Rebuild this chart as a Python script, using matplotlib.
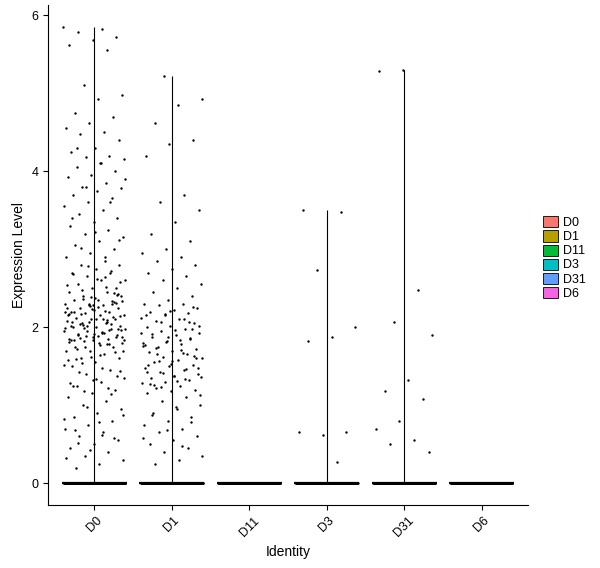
import matplotlib
matplotlib.use("Agg")
import matplotlib.pyplot as plt
from matplotlib.patches import Patch

plt.rcParams['font.family'] = ['Liberation Sans', 'DejaVu Sans']

groups = ["D0", "D1", "D11", "D3", "D31", "D6"]
colors = ["#F8766D", "#B79F00", "#00BA38", "#00BFC4", "#619CFF", "#F564E3"]

d0_vals = [5.85,5.82,5.78,5.72,5.68,5.62,5.55,5.1,4.97,4.92,4.75,4.7,4.62,4.55,4.5,4.48,4.4,4.3,4.25,4.2,4.18,4.15,4.1,4.05,4.0,3.95,3.92,3.85,3.8,3.78,3.75,3.7,3.65,3.6,3.55,3.5,3.45,3.4,3.35,3.3,3.25,3.2,3.15,3.1,3.05,3.0,2.95,2.9,2.85,2.8,2.8,2.75,2.7,2.7,2.65,2.6,2.6,2.55,2.5,2.5,2.45,2.45,2.4,2.4,2.35,2.35,2.3,2.3,2.3,2.28,2.25,2.25,2.22,2.2,2.2,2.18,2.15,2.15,2.12,2.1,2.1,2.08,2.05,2.05,2.02,2.0,2.0,1.98,1.95,1.95,1.92,1.9,1.9,1.88,1.85,1.85,1.82,1.8,1.8,1.75,1.75,1.7,1.7,1.65,1.6,1.6,1.55,1.5,1.45,1.4,1.35,1.3,1.25,1.2,1.15,1.1,1.05,1.0,0.95,0.9,0.85,0.8,0.75,0.7,0.65,0.6,0.55,0.5,0.45,0.4,0.35,0.3,0.25,0.2,
           2.32,2.27,2.24,2.21,2.17,2.14,2.11,2.07,2.04,2.01,1.97,1.94,1.91,1.87,1.84,1.81,1.78,2.36,2.33,2.26,2.19,2.13,2.06,1.99,1.93,1.86,2.42,2.38,2.02,1.96,1.89,1.83,1.77,1.72,1.68,1.62,1.58,2.52,2.48,2.58,2.62,2.68,2.72,2.78,1.52,1.48,1.42,1.38,1.32,1.28,1.22,1.18,0.88,0.78,0.68,0.58,0.42,0.32,2.9,3.02,3.12,3.22,3.4,3.6,3.8,3.9,4.1,4.3,
           2.31,2.23,2.16,2.09,2.03,1.96,1.89,1.83,2.34,2.29,2.19,2.11,2.04,1.97,1.91,1.84,1.79,1.74,1.69,1.64,1.59,2.44,2.39,2.54,2.64,1.54,1.44,1.34,1.24,1.14,0.98,0.82,0.62,0.52,2.41,2.28,2.17,2.07,1.99,1.88]
d1_vals = [5.22,4.92,4.85,4.62,4.4,4.35,4.2,3.7,3.6,3.5,3.35,3.2,3.1,3.0,2.95,2.9,2.85,2.8,2.75,2.7,2.65,2.6,2.55,2.5,2.45,2.4,2.35,2.3,2.3,2.28,2.25,2.22,2.2,2.18,2.15,2.12,2.1,2.08,2.05,2.02,2.0,1.98,1.95,1.92,1.9,1.88,1.85,1.82,1.8,1.78,1.75,1.72,1.7,1.68,1.65,1.62,1.6,1.58,1.55,1.52,1.5,1.48,1.45,1.42,1.4,1.38,1.35,1.32,1.3,1.28,1.25,1.22,1.2,1.18,1.15,1.1,1.05,1.0,0.95,0.9,0.85,0.8,0.75,0.7,0.65,0.6,0.55,0.5,0.45,0.4,0.35,0.3,0.25,
           2.26,2.21,2.16,2.11,2.06,2.01,1.96,1.91,1.86,1.81,1.76,1.71,1.66,1.61,1.56,1.51,1.46,1.41,1.36,1.31,1.26,1.97,1.87,1.77,1.67,1.57,1.47,1.37,1.27,2.07,2.17,1.93,1.83,1.73,1.63,1.53,1.43,1.33,1.23,1.13,0.98,0.88,0.78,0.68,0.58,0.48]
d11_vals = []
d3_vals = [3.5,3.48,2.73,2.0,1.87,1.82,0.65,0.62,0.66,0.27]
d31_vals = [5.3,5.28,2.47,2.07,1.9,1.32,1.18,1.08,0.8,0.7,0.55,0.5,0.4]
d6_vals = []
zero_counts = [250, 250, 250, 250, 250, 250]

all_vals = [d0_vals, d1_vals, d11_vals, d3_vals, d31_vals, d6_vals]

fig = plt.figure(figsize=(6.0, 5.68), dpi=100)
ax = fig.add_axes([48/600, 1-505/568, 480/600, 500/568])

def jitter(n, seed):
    return [((i * 0.6180339887 + seed * 0.37) % 1.0 - 0.5) * 0.8 for i in range(n)]

for i, vals in enumerate(all_vals):
    pos = i + 1
    full = list(vals) + [0.0] * zero_counts[i]
    xs = [pos + j for j in jitter(len(full), i)]
    ax.scatter(xs, full, s=3, color="black", linewidths=0, zorder=3)
    top = max(full)
    ax.vlines(pos, 0, top, color="black", lw=0.8, zorder=2)
    ax.hlines(0, pos - 0.42, pos + 0.42, color="black", lw=1.6, zorder=2)

ax.set_xlim(0.4, 6.6)
ax.set_ylim(-0.28, 6.13)
ax.set_xticks(range(1, 7))
ax.set_xticklabels(groups, rotation=45)
ax.set_yticks([0, 2, 4, 6])
for s in ["top", "right"]:
    ax.spines[s].set_visible(False)
ax.tick_params(labelsize=9)
ax.set_xlabel("Identity", fontsize=10)
ax.set_ylabel("Expression Level", fontsize=10)

handles = [Patch(facecolor=c, edgecolor="black", linewidth=0.6, label=g) for g, c in zip(groups, colors)]
fig.legend(handles=handles, loc="center left", bbox_to_anchor=(538/600, 1-258/568),
           frameon=False, fontsize=9, handlelength=1.2, handleheight=1.0,
           labelspacing=0.1, handletextpad=0.4, borderaxespad=0)

fig.savefig("out.png", dpi=100)
